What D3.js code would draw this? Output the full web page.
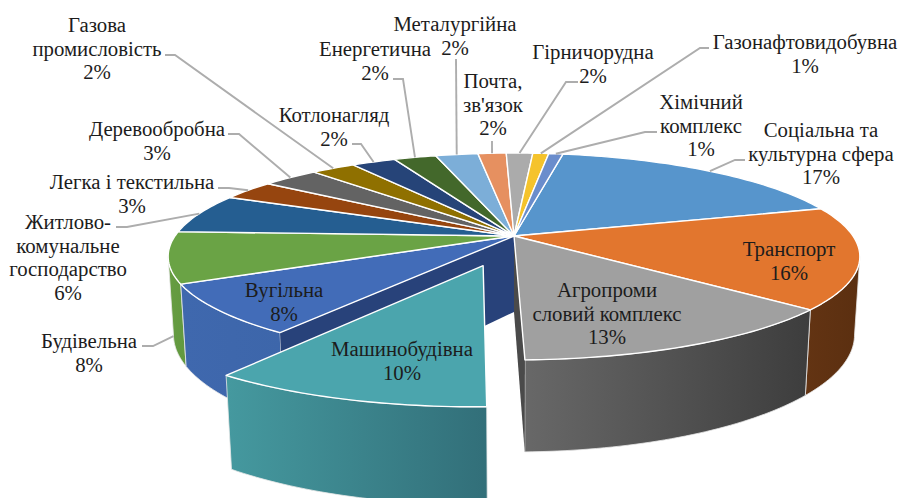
<!DOCTYPE html>
<html>
<head>
<meta charset="utf-8">
<style>
  html, body { margin: 0; padding: 0; background: #fff; overflow: hidden; }
</style>
</head>
<body>
<div id="chart"></div>
<script src="https://cdn.jsdelivr.net/npm/d3@7"></script>
<script>
const categories = [
  'Соціальна та культурна сфера', 'Транспорт', 'Агропромисловий комплекс',
  'Машинобудівна', 'Вугільна', 'Будівельна', 'Житлово-комунальне господарство',
  'Легка і текстильна', 'Деревообробна', 'Газова промисловість', 'Котлонагляд',
  'Енергетична', 'Металургійна', 'Почта, зв\'язок', 'Гірничорудна',
  'Газонафтовидобувна', 'Хімічний комплекс'
]
const values = [17.6, 15.9, 13.4, 10.25, 7.9, 8.0, 6.2, 3.1, 3.2, 2.5, 2.5, 2.4, 2.4, 1.6, 1.5, 0.9, 0.8]
const percentLabels = ['17%', '16%', '13%', '10%', '8%', '8%', '6%', '3%', '3%', '2%', '2%', '2%', '2%', '2%', '2%', '1%', '1%']
const labelLines = [
  ['Соціальна та', 'культурна сфера'], ['Транспорт'], ['Агропроми', 'словий комплекс'],
  ['Машинобудівна'], ['Вугільна'], ['Будівельна'], ['Житлово-', 'комунальне', 'господарство'],
  ['Легка і текстильна'], ['Деревообробна'], ['Газова', 'промисловість'], ['Котлонагляд'],
  ['Енергетична'], ['Металургійна'], ['Почта,', 'зв\'язок'], ['Гірничорудна'],
  ['Газонафтовидобувна'], ['Хімічний', 'комплекс']
]
const topColors = [
  '#5795cc', '#e2762e', '#a0a0a0', '#4ba5ad', '#426cb8', '#6aa345', '#255e91', '#96450f', '#636363',
  '#8f7000', '#264478', '#43682b', '#7caed8', '#e69060', '#ababab', '#f5c32c', '#6a8dcc'
]

// layout only: label centre, first line y, and the leader's points by the label
const labelPlace = [
  { x: 821, y: 131, tail: [[745, 160], [735, 160]] },
  { x: 789, y: 250 },
  { x: 607, y: 291 },
  { x: 402, y: 350 },
  { x: 284, y: 291 },
  { x: 89, y: 342, tail: [[142, 346], [153, 346]], onBase: true },
  { x: 68, y: 223, tail: [[116, 227], [127, 227]] },
  { x: 132, y: 183, tail: [[218, 188], [229, 188]] },
  { x: 157, y: 130, tail: [[228, 134], [239, 134]] },
  { x: 97, y: 26, tail: [[165, 55], [175, 55]] },
  { x: 334, y: 116, tail: [[352, 144], [361, 144]] },
  { x: 375, y: 50, tail: [[393, 79], [403, 79]] },
  { x: 455, y: 25, tail: [[456, 59]] },
  { x: 493, y: 82, tail: [[492, 141]] },
  { x: 593, y: 53, tail: [[578, 82], [566, 82]] },
  { x: 805, y: 43, tail: [[709, 48], [700, 48]] },
  { x: 701, y: 103, tail: [[657, 132], [645, 132]] }
]

const width = 899
const height = 498

// perspective pie: apex on screen, radii, tilt and thickness
const xPositionScale = d3.scaleLinear().domain([-1, 1]).range([514 - 339, 514 + 339])
const yPositionScale = d3.scaleLinear().domain([-1, 1]).range([236 - 99.4, 236 + 99.4])
const tilt = 0.198
const thickness = 0.775
const shrink = 0.015

const explodedIndex = 3
const explodeBy = 0.295

const startAngle = 9.93 * Math.PI / 180

// the wall only faces us between these two rim angles
const wallFrom = Math.PI - Math.acos(tilt)
const wallTo = Math.PI + Math.acos(tilt)

const slices = d3
  .pie()
  .sort(null)
  .startAngle(startAngle)
  .endAngle(startAngle + Math.PI * 2)(values)

function project(u, v, h) {
  const w = 1 - tilt * v + shrink * h
  return [xPositionScale(u / w), yPositionScale((v + thickness * h) / w)]
}

function offsetFor(i) {
  if (i !== explodedIndex) return [0, 0]
  const mid = (slices[i].startAngle + slices[i].endAngle) / 2
  return [Math.sin(mid) * explodeBy, -Math.cos(mid) * explodeBy]
}

function rimPoint(i, angle, h) {
  const [du, dv] = offsetFor(i)
  return project(Math.sin(angle) + du, -Math.cos(angle) + dv, h)
}

function apexPoint(i, h) {
  const [du, dv] = offsetFor(i)
  return project(du, dv, h)
}

function rimPoints(i, h, from, to) {
  const steps = Math.max(2, Math.ceil((to - from) / 0.02))
  return d3.range(steps + 1).map(k => rimPoint(i, from + (to - from) * k / steps, h))
}

const closedLine = d3.line().curve(d3.curveLinearClosed)
const openLine = d3.line()

const svg = d3
  .select('#chart')
  .append('svg')
  .attr('width', width)
  .attr('height', height)

// only walls you can actually see get a colour
const wallStyles = new Map([
  [1, ['#633413', '#5b2f10']],
  [2, ['#686868', '#3d3d3d']],
  [3, ['#45999f', '#326f79']],
  [4, ['#3f68ae', '#3d66aa']],
  [5, ['#669d42', '#62983f']]
])
const innerWallColors = new Map([[2, '#4a4a4a'], [4, '#28427a']])

const defs = svg.append('defs')
wallStyles.forEach((colors, i) => {
  const grad = defs.append('linearGradient').attr('id', 'wall-' + i)
  grad.append('stop').attr('offset', '0%').attr('stop-color', colors[0])
  grad.append('stop').attr('offset', '100%').attr('stop-color', colors[1])
})

function drawWall(i) {
  const from = Math.max(slices[i].startAngle, wallFrom)
  const to = Math.min(slices[i].endAngle, wallTo)
  const pts = rimPoints(i, 0, from, to).concat(rimPoints(i, 1, from, to).reverse())
  svg
    .append('path')
    .attr('class', 'wall')
    .attr('d', closedLine(pts))
    .attr('fill', 'url(#wall-' + i + ')')
    .attr('stroke', '#e8e8e8')
    .attr('stroke-width', 0.8)
}

function drawInnerWall(i, angle) {
  const pts = [apexPoint(i, 0), rimPoint(i, angle, 0), rimPoint(i, angle, 1), apexPoint(i, 1)]
  svg
    .append('path')
    .attr('class', 'inner-wall')
    .attr('d', closedLine(pts))
    .attr('fill', innerWallColors.get(i))
}

function drawTop(i) {
  const pts = [apexPoint(i, 0)].concat(rimPoints(i, 0, slices[i].startAngle, slices[i].endAngle))
  svg
    .append('path')
    .attr('class', 'top')
    .attr('d', closedLine(pts))
    .attr('fill', topColors[i])
    .attr('stroke', '#fff')
    .attr('stroke-width', 1.4)
    .attr('stroke-linejoin', 'round')
}

// back to front, the pulled out slice goes last
;[5, 4, 1, 2].forEach(drawWall)
drawInnerWall(2, slices[2].endAngle)
drawInnerWall(4, slices[4].startAngle)
slices.forEach((s, i) => {
  if (i !== explodedIndex) drawTop(i)
})
drawWall(explodedIndex)
drawTop(explodedIndex)

// leaders run from the label to the middle of the slice rim
labelPlace.forEach((place, i) => {
  if (!place.tail) return
  const mid = (slices[i].startAngle + slices[i].endAngle) / 2
  const end = rimPoint(i, mid, place.onBase ? 1 : 0)
  svg
    .append('path')
    .attr('class', 'leader')
    .attr('d', openLine(place.tail.concat([end])))
    .attr('fill', 'none')
    .attr('stroke', '#adadad')
    .attr('stroke-width', 1.9)
})

const lineStep = 23.5

labelPlace.forEach((place, i) => {
  const lines = labelLines[i].concat(percentLabels[i])
  const label = svg
    .append('text')
    .attr('class', 'label')
    .attr('text-anchor', 'middle')
    .style('font-family', '"Liberation Serif"')
    .style('font-size', '20.8px')
    .style('fill', '#1c1c1c')
  lines.forEach((line, k) => {
    label
      .append('tspan')
      .attr('x', place.x)
      .attr('y', place.y + 6 + k * lineStep)
      .text(line)
  })
})
</script>
</body>
</html>
